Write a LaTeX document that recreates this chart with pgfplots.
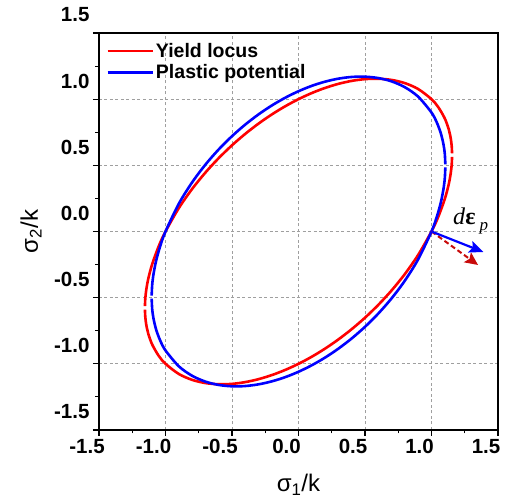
\documentclass[border=0pt]{standalone}
\usepackage{pgfplots}
\pgfplotsset{compat=1.18}
\usepackage{fontspec}
\setmainfont{Liberation Sans}
\newfontfamily\tms{Liberation Serif}
\usetikzlibrary{arrows.meta}
\definecolor{darkred}{RGB}{200,10,10}
\begin{document}
\begin{tikzpicture}
\path[use as bounding box] (-99pt,-72pt) rectangle (409pt,430pt);
\begin{axis}[
  scale only axis, width=399pt, height=397pt,
  xmin=-1.5, xmax=1.5, ymin=-1.5, ymax=1.5,
  clip=false,
  xtick={-1.5,-1,-0.5,0,0.5,1,1.5},
  ytick={-1.5,-1,-0.5,0,0.5,1,1.5},
  xticklabels={-1.5,-1.0,-0.5,0.0,0.5,1.0,1.5},
  yticklabels={-1.5,-1.0,-0.5,0.0,0.5,1.0,1.5},
  minor tick num=1,
  tick align=outside, tick pos=left,
  major tick length=6pt, minor tick length=3.5pt,
  every tick/.style={black, line width=1.1pt},
  axis line style={line width=1.2pt},
  grid=major,
  major grid style={gray!75, dash pattern=on 3pt off 2.5pt, line width=0.8pt},
  xticklabel style={font=\bfseries\fontsize{20.5}{22}\selectfont, xshift=-12pt},
  yticklabel style={font=\bfseries\fontsize{20.5}{22}\selectfont, yshift=18pt},
  xlabel={σ\textsubscript{1}/k},
  ylabel={σ\textsubscript{2}/k},
  every axis x label/.style={at={(axis description cs:0.5,-0.138)}, anchor=center, font=\fontsize{24}{26}\selectfont},
  every axis y label/.style={at={(axis description cs:-0.17,0.5)}, anchor=center, rotate=90, font=\fontsize{24}{26}\selectfont},
  legend style={at={(0.0125,0.985)}, anchor=north west, draw=none, fill=none,
    font=\bfseries\fontsize{19.5}{21}\selectfont, row sep=2pt, inner sep=2pt},
  legend cell align=left,
  legend image code/.code={\draw[#1, line width=2.8pt] (0pt,0pt) -- (45pt,0pt);},
]
% Yield locus (red), upper branch
\addplot[red, line width=2.6pt, smooth] coordinates {
(-1.1546,-0.5641) (-1.152,-0.50765) (-1.145,-0.44315) (-1.13,-0.35927) (-1.1,-0.24586) (-1.05,-0.10892) (-1.0,0) (-0.9,0.17650) (-0.8,0.32111) (-0.7,0.44530) (-0.6,0.55440) (-0.5,0.65139) (-0.4,0.73808) (-0.3,0.81566) (-0.2,0.88489) (-0.1,0.94624) (0,1) (0.1,1.04624) (0.2,1.08489) (0.3,1.11566) (0.4,1.13808) (0.5,1.15139) (0.6,1.15440) (0.7,1.14530) (0.8,1.12111) (0.9,1.07650) (1.0,1.0) (1.05,0.94108) (1.1,0.85414) (1.13,0.77073) (1.145,0.70185) (1.152,0.64435) (1.1546,0.5905)
};
\addlegendentry{Yield locus}
% Yield locus (red), lower branch
\addplot[red, line width=2.6pt, smooth, forget plot] coordinates {
(-1.1546,-0.5905) (-1.152,-0.64435) (-1.145,-0.70185) (-1.13,-0.77073) (-1.1,-0.85414) (-1.05,-0.94108) (-1.0,-1.0) (-0.9,-1.07650) (-0.8,-1.12111) (-0.7,-1.14530) (-0.6,-1.15440) (-0.5,-1.15139) (-0.4,-1.13808) (-0.3,-1.11566) (-0.2,-1.08489) (-0.1,-1.04624) (0,-1) (0.1,-0.94624) (0.2,-0.88489) (0.3,-0.81566) (0.4,-0.73808) (0.5,-0.65139) (0.6,-0.55440) (0.7,-0.44530) (0.8,-0.32111) (0.9,-0.17650) (1.0,0) (1.05,0.10892) (1.1,0.24586) (1.13,0.35927) (1.145,0.44315) (1.152,0.50765) (1.1546,0.5641)
};
% Plastic potential (blue), upper branch
\addplot[blue, line width=2.6pt, smooth] coordinates {
(-1.1041,-0.48499) (-1.1,-0.40242) (-1.09,-0.32065) (-1.07,-0.21926) (-1.04,-0.11134) (-1.0,0) (-0.9,0.20958) (-0.8,0.37104) (-0.7,0.50516) (-0.6,0.62018) (-0.5,0.72037) (-0.4,0.80822) (-0.3,0.88529) (-0.2,0.95257) (-0.1,1.01070) (0,1.06) (0.1,1.10058) (0.2,1.13235) (0.3,1.15496) (0.4,1.16777) (0.5,1.16980) (0.6,1.15950) (0.7,1.13437) (0.8,1.09014) (0.9,1.01857) (1.0,0.89888) (1.04,0.82349) (1.07,0.74254) (1.09,0.65913) (1.1,0.58635) (1.1041,0.50747)
};
\addlegendentry{Plastic potential}
% Plastic potential (blue), lower branch
\addplot[blue, line width=2.6pt, smooth, forget plot] coordinates {
(-1.1041,-0.50747) (-1.1,-0.58635) (-1.09,-0.65913) (-1.07,-0.74254) (-1.04,-0.82349) (-1.0,-0.89888) (-0.9,-1.01857) (-0.8,-1.09014) (-0.7,-1.13437) (-0.6,-1.15950) (-0.5,-1.16980) (-0.4,-1.16777) (-0.3,-1.15496) (-0.2,-1.13235) (-0.1,-1.10058) (0,-1.06) (0.1,-1.01070) (0.2,-0.95257) (0.3,-0.88529) (0.4,-0.80822) (0.5,-0.72037) (0.6,-0.62018) (0.7,-0.50516) (0.8,-0.37104) (0.9,-0.20958) (1.0,0) (1.04,0.11134) (1.07,0.21926) (1.09,0.32065) (1.1,0.40242) (1.1041,0.48499)
};
% strain increment arrows
\addplot[darkred, line width=2pt, dash pattern=on 5pt off 3pt, -{Stealth[length=13pt,width=12pt,inset=2.5pt]}, forget plot] coordinates {(1,0) (1.35,-0.253)};
\addplot[blue, line width=2.2pt, -{Stealth[length=14pt,width=12pt,inset=2.5pt]}, forget plot] coordinates {(1,0) (1.39,-0.155)};
\node[anchor=base west, inner sep=0pt] at (axis cs:1.162,0.05)
  {\tms\fontsize{24}{26}\selectfont\itshape d\/\upshape\bfseries ε\hspace{4pt}\mdseries\itshape\raisebox{-6pt}{\fontsize{17}{18}\selectfont p}};
\end{axis}
\end{tikzpicture}
\end{document}
